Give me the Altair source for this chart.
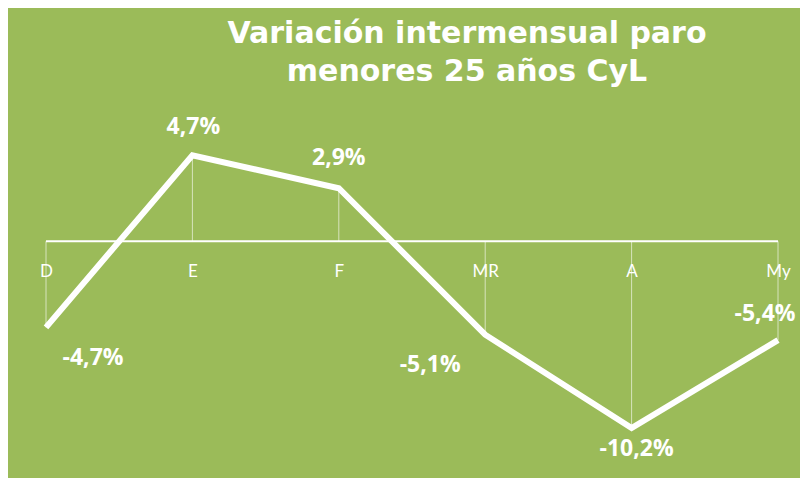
import altair as alt
import pandas as pd

# ---- data ----
months = ["D", "E", "F", "MR", "A", "My"]
values = [-4.7, 4.7, 2.9, -5.1, -10.2, -5.4]
value_labels = ["-4,7%", "4,7%", "2,9%", "-5,1%", "-10,2%", "-5,4%"]
title_lines = ["Variación intermensual paro", "menores 25 años CyL"]

df = pd.DataFrame({"mes": months, "v": values, "lab": value_labels})

# ---- style ----
GREEN = "#9BBB59"
WHITE = "#FFFFFF"
W, H = 732, 357
label_offsets = {"D": (47, 31), "E": (1, -28), "F": (0, -30),
                 "MR": (-55, 30), "A": (5, 21), "My": (-13, -26)}

xscale = alt.Scale(type="point", padding=0, domain=months)
xaxis = alt.Axis(title=None, domain=False, ticks=False, grid=False,
                 labelAngle=0, labelColor=WHITE, labelFontSize=17,
                 labelFont="Lato", labelPadding=22, offset=-220)
xenc = alt.X("mes:N", scale=xscale, axis=xaxis)
yscale = alt.Scale(domain=[-12, 7.5], nice=False, zero=False)
yenc = alt.Y("v:Q", scale=yscale, axis=None)

base = alt.Chart(df)

zero_rule = alt.Chart(df).transform_aggregate(n="count()").transform_calculate(
    z="0", a="'" + months[0] + "'", b="'" + months[-1] + "'"
).mark_rule(color=WHITE, strokeWidth=2).encode(
    x=alt.X("a:N", scale=xscale, axis=xaxis),
    x2="b:N",
    y=alt.Y("z:Q", scale=yscale, axis=None),
)

drops = base.transform_calculate(z="0").mark_rule(
    color=WHITE, strokeWidth=1, opacity=0.6
).encode(x=xenc, y=yenc, y2="z:Q")

line = base.mark_line(color=WHITE, strokeWidth=6, strokeJoin="miter",
                      strokeCap="butt").encode(x=xenc, y=yenc)

texts = []
for m in months:
    dx, dy = label_offsets[m]
    texts.append(
        base.transform_filter(alt.datum.mes == m).mark_text(
            color=WHITE, font="Open Sans", fontWeight="bold", fontSize=23,
            align="center", baseline="middle", dx=dx, dy=dy
        ).encode(x=xenc, y=yenc, text="lab:N")
    )

chart = alt.layer(drops, zero_rule, line, *texts).properties(
    width=W, height=H,
    title=alt.TitleParams(title_lines, color=WHITE, fontSize=30,
                          font="DejaVu Sans", fontWeight="bold",
                          anchor="middle", dx=55, offset=17, lineHeight=38),
    background=GREEN,
    padding={"left": 38, "top": 96, "right": 22, "bottom": 17},
    autosize=alt.AutoSizeParams(type="none"),
).configure_view(stroke=None)

chart.save("out.html", embed_options={"renderer": "svg", "actions": False})
